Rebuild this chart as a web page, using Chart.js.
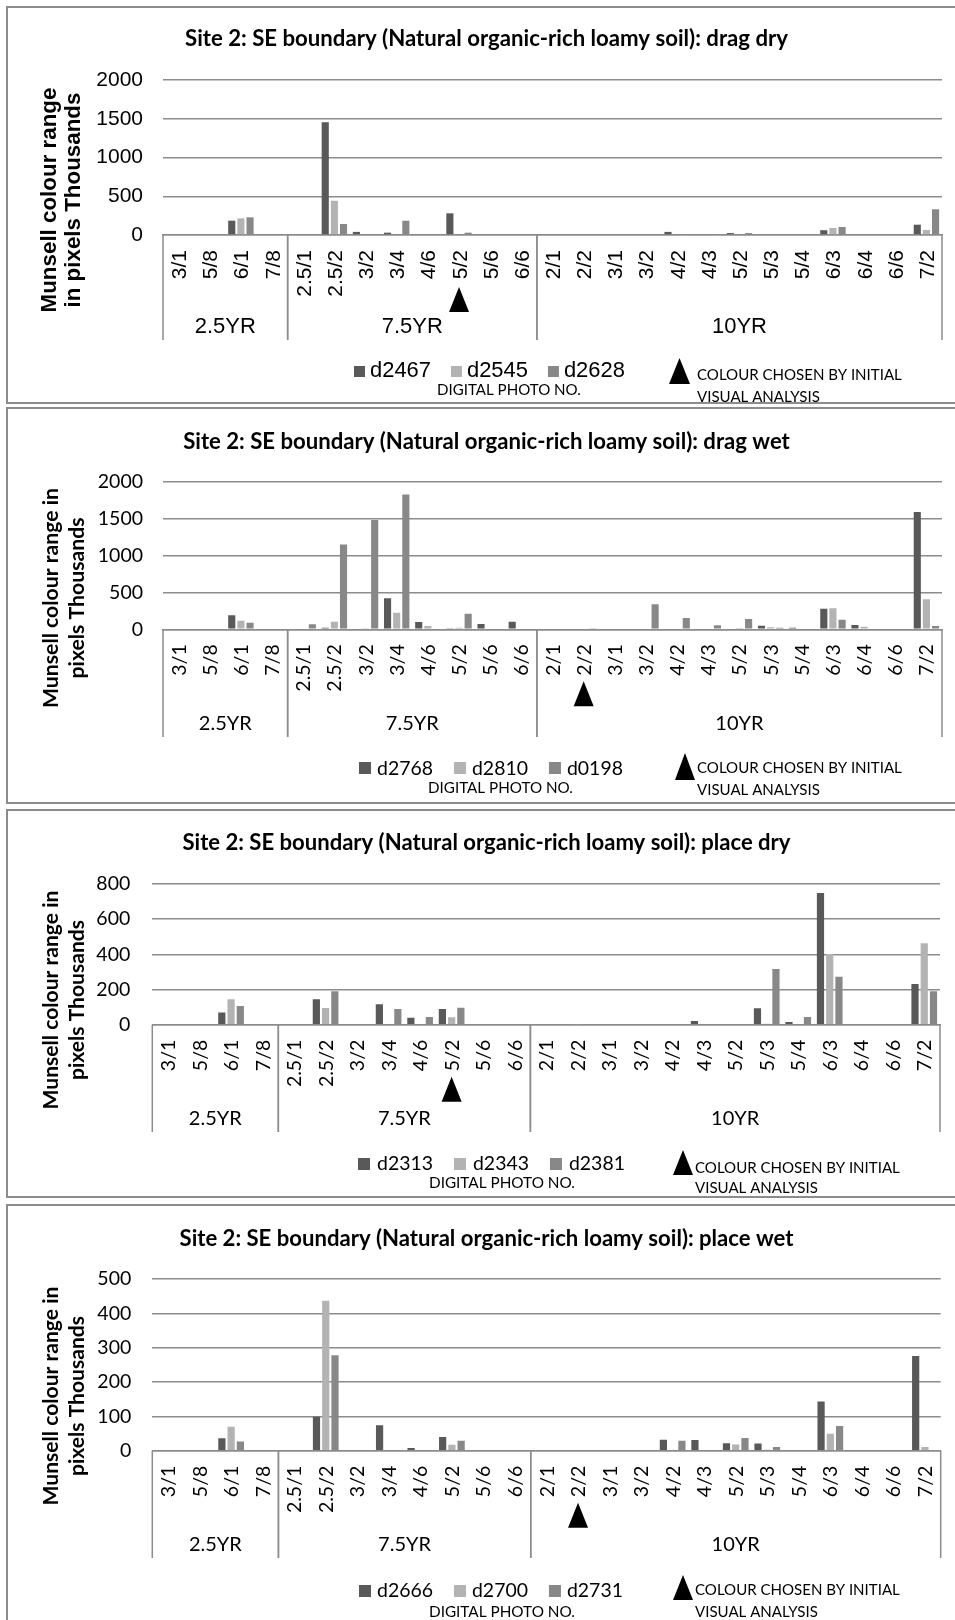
<!DOCTYPE html>
<html>
<head>
<meta charset="utf-8">
<title>Site 2: SE boundary</title>
<script src="https://cdn.jsdelivr.net/npm/chart.js@4.4.1/dist/chart.umd.min.js"></script>
<style>
  html, body { margin: 0; padding: 0; background: #fff; }
  body { width: 955px; height: 1620px; position: relative; overflow: hidden; }
  canvas { position: absolute; left: 0; }
</style>
</head>
<body>
<canvas id="dragDry"></canvas>
<canvas id="dragWet"></canvas>
<canvas id="placeDry"></canvas>
<canvas id="placeWet"></canvas>
<script>
// Munsell chips along the x axis, grouped by hue page
var colourCodes = ['3/1', '5/8', '6/1', '7/8',
  '2.5/1', '2.5/2', '3/2', '3/4', '4/6', '5/2', '5/6', '6/6',
  '2/1', '2/2', '3/1', '3/2', '4/2', '4/3', '5/2', '5/3', '5/4', '6/3', '6/4', '6/6', '7/2'];
var hueGroups = ['2.5YR', '7.5YR', '10YR'];
var hueGroupSizes = [4, 8, 13];

// drag dry (thousands of pixels)
var d2467 = [0, 0, 185, 0, 0, 1455, 40, 30, 0, 280, 0, 0, 0, 0, 0, 0, 40, 0, 25, 0, 0, 62, 0, 0, 133];
var d2545 = [0, 0, 215, 0, 0, 442, 0, 0, 0, 0, 0, 0, 0, 0, 0, 0, 0, 0, 0, 0, 0, 90, 0, 0, 65];
var d2628 = [0, 0, 228, 0, 0, 142, 0, 184, 0, 30, 0, 0, 0, 0, 0, 0, 5, 5, 25, 0, 0, 103, 0, 0, 332];
var dragDryTicks = [0, 500, 1000, 1500, 2000];

// drag wet
var d2768 = [0, 0, 190, 0, 0, 20, 0, 420, 99, 15, 72, 103, 0, 0, 0, 0, 0, 0, 0, 49, 20, 279, 58, 0, 1590];
var d2810 = [0, 0, 117, 0, 0, 103, 15, 225, 45, 20, 10, 10, 0, 0, 0, 0, 0, 0, 5, 28, 0, 284, 35, 0, 406];
var d0198 = [0, 0, 90, 0, 68, 1150, 1480, 1828, 0, 211, 0, 0, 0, 15, 0, 338, 153, 54, 140, 20, 0, 130, 0, 0, 45];
var dragWetTicks = [0, 500, 1000, 1500, 2000];

// place dry
var d2313 = [0, 0, 70, 0, 0, 144, 0, 116, 40, 89, 0, 0, 0, 0, 0, 0, 0, 21, 0, 93, 15, 749, 0, 0, 231];
var d2343 = [0, 0, 144, 0, 0, 95, 0, 0, 0, 42, 0, 0, 0, 3, 0, 0, 0, 0, 0, 5, 0, 402, 0, 0, 463];
var d2381 = [0, 0, 106, 0, 0, 190, 0, 89, 44, 97, 0, 0, 0, 0, 0, 0, 0, 0, 0, 317, 44, 273, 0, 0, 190];
var placeDryTicks = [0, 200, 400, 600, 800];

// place wet
var d2666 = [0, 0, 36, 0, 0, 99, 0, 74, 8, 40, 0, 0, 0, 0, 0, 0, 32, 31, 22, 21, 0, 143, 0, 0, 276];
var d2700 = [0, 0, 70, 0, 0, 437, 0, 0, 0, 17, 0, 0, 0, 0, 0, 0, 0, 0, 18, 3, 0, 49, 0, 0, 11];
var d2731 = [0, 0, 27, 0, 0, 278, 0, 0, 0, 29, 0, 0, 0, 0, 0, 0, 29, 0, 37, 11, 0, 72, 0, 0, 0];
var placeWetTicks = [0, 100, 200, 300, 400, 500];

// colour picked by the initial visual analysis
var dragDryChosen = ['7.5YR', '5/2'];
var dragWetChosen = ['10YR', '2/2'];
var placeDryChosen = ['7.5YR', '5/2'];
var placeWetChosen = ['10YR', '2/2'];

var seriesColours = ['#595959', '#b3b3b3', '#888888'];
var titleStart = 'Site 2: SE boundary (Natural organic-rich loamy soil): ';

var panels = [
  {
    id: 'dragDry', title: titleStart + 'drag dry', arial: true,
    photos: ['d2467', 'd2545', 'd2628'], series: [d2467, d2545, d2628],
    ticks: dragDryTicks, chosen: dragDryChosen,
    yTitle: ['Munsell colour range', 'in pixels Thousands'],
    top: 6, height: 398, border: [7, 403], area: [163, 80, 942, 235],
    titleBase: 46, titleWidth: 603, yTitleBase: [55.5, 79.5], yTitleMid: 200, yTitleWidth: 225,
    tickSize: 21, tickPad: 20, groupBase: 333, dividerBottom: 340,
    legend: { x: 354, sqTop: 366, sq: 11, gap: 16, space: 20, base: 377, width: 61 },
    photoNo: { x: 437, width: 144, base: 395 },
    marker: { x: 669, y: 358, w: 21, h: 26 },
    note: { x: 697, width: 205, base: [380, 402] }
  },
  {
    id: 'dragWet', title: titleStart + 'drag wet', arial: false,
    photos: ['d2768', 'd2810', 'd0198'], series: [d2768, d2810, d0198],
    ticks: dragWetTicks, chosen: dragWetChosen,
    yTitle: ['Munsell colour range in', 'pixels Thousands'],
    top: 407, height: 397, border: [408, 803], area: [163, 481.7, 942, 629.3],
    titleBase: 449, titleWidth: 607, yTitleBase: [58, 84], yTitleMid: 598, yTitleWidth: 220,
    tickSize: 19.5, tickPad: 20, groupBase: 730, dividerBottom: 737,
    legend: { x: 359, sqTop: 762, sq: 12, gap: 18, space: 21, base: 775, width: 56 },
    photoNo: { x: 428, width: 145, base: 793 },
    marker: { x: 675, y: 753, w: 20, h: 27 },
    note: { x: 697, width: 205, base: [773, 795] }
  },
  {
    id: 'placeDry', title: titleStart + 'place dry', arial: false,
    photos: ['d2313', 'd2343', 'd2381'], series: [d2313, d2343, d2381],
    ticks: placeDryTicks, chosen: placeDryChosen,
    yTitle: ['Munsell colour range in', 'pixels Thousands'],
    top: 809, height: 389, border: [810, 1197], area: [152.3, 884, 940, 1024.7],
    titleBase: 850, titleWidth: 608, yTitleBase: [58, 84], yTitleMid: 1000, yTitleWidth: 219,
    tickSize: 19.5, tickPad: 22, groupBase: 1125, dividerBottom: 1132,
    legend: { x: 358, sqTop: 1158, sq: 12, gap: 19, space: 21, base: 1170, width: 56 },
    photoNo: { x: 429, width: 146, base: 1188 },
    marker: { x: 673, y: 1150, w: 20, h: 25 },
    note: { x: 695, width: 205, base: [1173, 1193] }
  },
  {
    id: 'placeWet', title: titleStart + 'place wet', arial: false,
    photos: ['d2666', 'd2700', 'd2731'], series: [d2666, d2700, d2731],
    ticks: placeWetTicks, chosen: placeWetChosen,
    yTitle: ['Munsell colour range in', 'pixels Thousands'],
    top: 1204, height: 416, border: [1205, 1660], area: [152.3, 1279, 940.7, 1450.7],
    titleBase: 1246, titleWidth: 614, yTitleBase: [58, 84], yTitleMid: 1396, yTitleWidth: 219,
    tickSize: 19.5, tickPad: 21, groupBase: 1551, dividerBottom: 1558,
    legend: { x: 359, sqTop: 1585, sq: 12, gap: 18, space: 21, base: 1597, width: 56 },
    photoNo: { x: 429, width: 146, base: 1617 },
    marker: { x: 673, y: 1575, w: 20, h: 25 },
    note: { x: 695, width: 205, base: [1595, 1617] }
  }
];

// font size that makes text span the given width
function fitSize(ctx, text, width, weight, family) {
  ctx.font = weight + ' 100px "' + family + '"';
  return 100 * width / ctx.measureText(text).width;
}

function triangle(ctx, x, y, w, h) {
  ctx.beginPath();
  ctx.moveTo(x + w / 2, y);
  ctx.lineTo(x + w, y + h);
  ctx.lineTo(x, y + h);
  ctx.closePath();
  ctx.fill();
}

function hueOf(index) {
  var start = 0;
  for (var g = 0; g < hueGroups.length; g++) {
    if (index < start + hueGroupSizes[g]) return hueGroups[g];
    start += hueGroupSizes[g];
  }
  return null;
}

function decorPlugin(p) {
  return {
    id: 'decor_' + p.id,
    afterDraw: function(chart) {
      var ctx = chart.ctx;
      var xs = chart.scales.x;
      var area = chart.chartArea;
      var off = p.top;
      var family = p.arial ? 'Liberation Sans' : 'Lato';
      var capH = (p.arial ? 0.716 : 0.72) * p.tickSize;

      ctx.save();
      ctx.fillStyle = '#000';

      // frame round the panel
      ctx.strokeStyle = '#8c8c8c';
      ctx.lineWidth = 2;
      ctx.strokeRect(7, p.border[0] - off, 990, p.border[1] - p.border[0]);

      // title
      var ts = fitSize(ctx, p.title, p.titleWidth, 'bold', 'Lato');
      ctx.font = 'bold ' + ts + 'px "Lato"';
      ctx.textAlign = 'center';
      ctx.textBaseline = 'alphabetic';
      ctx.fillText(p.title, 486.5, p.titleBase - off);

      // y axis title, two rotated lines
      var ys = fitSize(ctx, p.yTitle[0], p.yTitleWidth, 'bold', family);
      ctx.font = 'bold ' + ys + 'px "' + family + '"';
      for (var l = 0; l < p.yTitle.length; l++) {
        ctx.save();
        ctx.translate(p.yTitleBase[l], p.yTitleMid - off);
        ctx.rotate(-Math.PI / 2);
        ctx.fillText(p.yTitle[l], 0, 0);
        ctx.restore();
      }

      // colour codes under the axis
      ctx.font = p.tickSize + 'px "' + family + '"';
      ctx.textAlign = 'right';
      for (var i = 0; i < colourCodes.length; i++) {
        var cx = xs.getPixelForValue(i);
        ctx.save();
        ctx.translate(cx + capH / 2, area.bottom + 15);
        ctx.rotate(-Math.PI / 2);
        ctx.fillText(colourCodes[i], 0, 0);
        ctx.restore();
      }

      // hue groups with divider lines
      var half = (xs.getPixelForValue(1) - xs.getPixelForValue(0)) / 2;
      var groupSize = p.arial ? 22 : 20;
      ctx.font = groupSize + 'px "' + family + '"';
      ctx.textAlign = 'center';
      ctx.strokeStyle = '#8c8c8c';
      ctx.lineWidth = 1.5;
      var start = 0;
      for (var g = 0; g < hueGroups.length; g++) {
        var left = xs.getPixelForValue(start) - half;
        var right = xs.getPixelForValue(start + hueGroupSizes[g] - 1) + half;
        ctx.beginPath();
        ctx.moveTo(left, area.bottom);
        ctx.lineTo(left, p.dividerBottom - off);
        ctx.moveTo(right, area.bottom);
        ctx.lineTo(right, p.dividerBottom - off);
        ctx.stroke();
        ctx.fillText(hueGroups[g], (left + right) / 2, p.groupBase - off);
        start += hueGroupSizes[g];
      }

      // marker under the chip chosen by eye
      for (var k = 0; k < colourCodes.length; k++) {
        if (hueOf(k) === p.chosen[0] && colourCodes[k] === p.chosen[1]) {
          triangle(ctx, xs.getPixelForValue(k) - 10, area.bottom + 52, 20, 25);
        }
      }

      // legend
      var lg = p.legend;
      var ls = fitSize(ctx, p.photos[0], lg.width, 'normal', family);
      ctx.font = ls + 'px "' + family + '"';
      ctx.textAlign = 'left';
      var lx = lg.x;
      for (var s = 0; s < p.photos.length; s++) {
        ctx.fillStyle = seriesColours[s];
        ctx.fillRect(lx, lg.sqTop - off, lg.sq, lg.sq);
        ctx.fillStyle = '#000';
        ctx.fillText(p.photos[s], lx + lg.gap, lg.base - off);
        lx += lg.gap + ctx.measureText(p.photos[s]).width + lg.space;
      }

      var ps = fitSize(ctx, 'DIGITAL PHOTO NO.', p.photoNo.width, 'normal', 'Lato');
      ctx.font = ps + 'px "Lato"';
      ctx.fillText('DIGITAL PHOTO NO.', p.photoNo.x, p.photoNo.base - off);

      triangle(ctx, p.marker.x, p.marker.y - off, p.marker.w, p.marker.h);
      var ns = fitSize(ctx, 'COLOUR CHOSEN BY INITIAL', p.note.width, 'normal', 'Lato');
      ctx.font = ns + 'px "Lato"';
      ctx.fillText('COLOUR CHOSEN BY INITIAL', p.note.x, p.note.base[0] - off);
      ctx.fillText('VISUAL ANALYSIS', p.note.x, p.note.base[1] - off);

      ctx.restore();
    }
  };
}

function renderPanel(p) {
  var canvas = document.getElementById(p.id);
  canvas.width = 955;
  canvas.height = p.height;
  canvas.style.width = '955px';
  canvas.style.height = p.height + 'px';
  canvas.style.top = p.top + 'px';

  var family = p.arial ? 'Liberation Sans' : 'Lato';
  var datasets = [];
  for (var s = 0; s < p.photos.length; s++) {
    datasets.push({
      label: p.photos[s],
      data: p.series[s],
      backgroundColor: seriesColours[s],
      borderWidth: 0,
      categoryPercentage: 0.88,
      barPercentage: 0.78
    });
  }

  var areaTop = p.area[1] - p.top;
  var areaBottom = p.area[3] - p.top;

  new Chart(canvas, {
    type: 'bar',
    data: { labels: colourCodes, datasets: datasets },
    options: {
      responsive: false,
      animation: false,
      devicePixelRatio: 1,
      layout: { padding: { left: 0, top: areaTop, right: 955 - p.area[2], bottom: 0 } },
      plugins: {
        legend: { display: false },
        title: { display: false },
        tooltip: { enabled: false }
      },
      scales: {
        x: {
          offset: true,
          ticks: { display: false },
          grid: { display: false },
          border: { display: true, color: '#8c8c8c', width: 1.5 },
          afterFit: function(scale) { scale.height = p.height - areaBottom; }
        },
        y: {
          min: p.ticks[0],
          max: p.ticks[p.ticks.length - 1],
          ticks: {
            stepSize: p.ticks[1] - p.ticks[0],
            color: '#000',
            padding: p.tickPad,
            font: { family: family, size: p.arial ? 21 : 19.5 },
            callback: function(value) { return String(value); }
          },
          grid: { color: '#8c8c8c', lineWidth: 1.5, drawTicks: false },
          border: { display: false },
          afterFit: function(scale) { scale.width = p.area[0]; }
        }
      }
    },
    plugins: [decorPlugin(p)]
  });
}

for (var i = 0; i < panels.length; i++) {
  renderPanel(panels[i]);
}
</script>
</body>
</html>
